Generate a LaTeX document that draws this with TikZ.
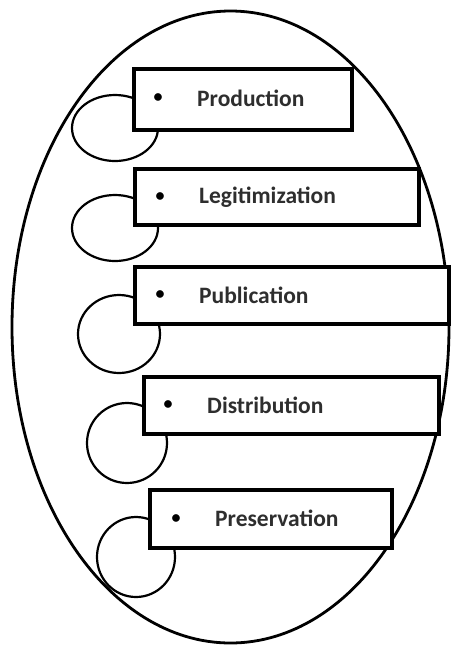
\documentclass[tikz,border=0pt]{standalone}
\usepackage{fontspec}
\setmainfont{Carlito}
\usetikzlibrary{shapes.geometric}
\begin{document}
\begin{tikzpicture}[x=1pt,y=-1pt,
 outer/.style={draw, ellipse, line width=2.8pt, inner sep=0pt},
 loopring/.style={draw, ellipse, line width=2.2pt, inner sep=0pt},
 box/.style={draw, fill=white, line width=3.6pt, anchor=north west, inner sep=0pt},
 lab/.style={anchor=west, font=\fontsize{23.5}{27}\selectfont\bfseries, text=black!82, inner sep=0pt},
 bul/.style={font=\fontsize{18}{21}\selectfont\bfseries, inner sep=0pt}]
\useasboundingbox (0,0) rectangle (451,649);
\node[outer, minimum width=437pt, minimum height=632pt] (E) at (230.5,327) {};
% loops
\node[loopring, minimum width=86pt, minimum height=66pt] (l1) at (115,128) {};
\node[loopring, minimum width=86pt, minimum height=66pt] (l2) at (115,228) {};
\node[loopring, minimum width=82pt, minimum height=78pt] (l3) at (119,334) {};
\node[loopring, minimum width=80pt, minimum height=80pt] (l4) at (127,443) {};
\node[loopring, minimum width=78pt, minimum height=80pt] (l5) at (136,557) {};
% boxes
\node[box, minimum width=218pt, minimum height=61pt] (b1) at (132,67) {};
\node[box, minimum width=284pt, minimum height=56pt] (b2) at (133,167) {};
\node[box, minimum width=314pt, minimum height=57pt] (b3) at (133,265) {};
\node[box, minimum width=295pt, minimum height=57pt] (b4) at (142,375) {};
\node[box, minimum width=242pt, minimum height=58pt] (b5) at (148,488) {};
% bullets
\node[bul] (d1) at ([xshift=26pt,yshift=1pt]b1.west) {•};
\node[bul] (d2) at ([xshift=27pt]b2.west) {•};
\node[bul] (d3) at ([xshift=27pt]b3.west) {•};
\node[bul] (d4) at ([xshift=26pt]b4.west) {•};
\node[bul] (d5) at ([xshift=28pt]b5.west) {•};
% labels
\node[lab] (t1) at ([xshift=65pt,yshift=1pt]b1.west) {Production};
\node[lab] (t2) at ([xshift=66pt]b2.west) {Legitimization};
\node[lab] (t3) at ([xshift=66pt]b3.west) {Publication};
\node[lab] (t4) at ([xshift=65pt]b4.west) {Distribution};
\node[lab] (t5) at ([xshift=67pt]b5.west) {Preservation};
\end{tikzpicture}
\end{document}
